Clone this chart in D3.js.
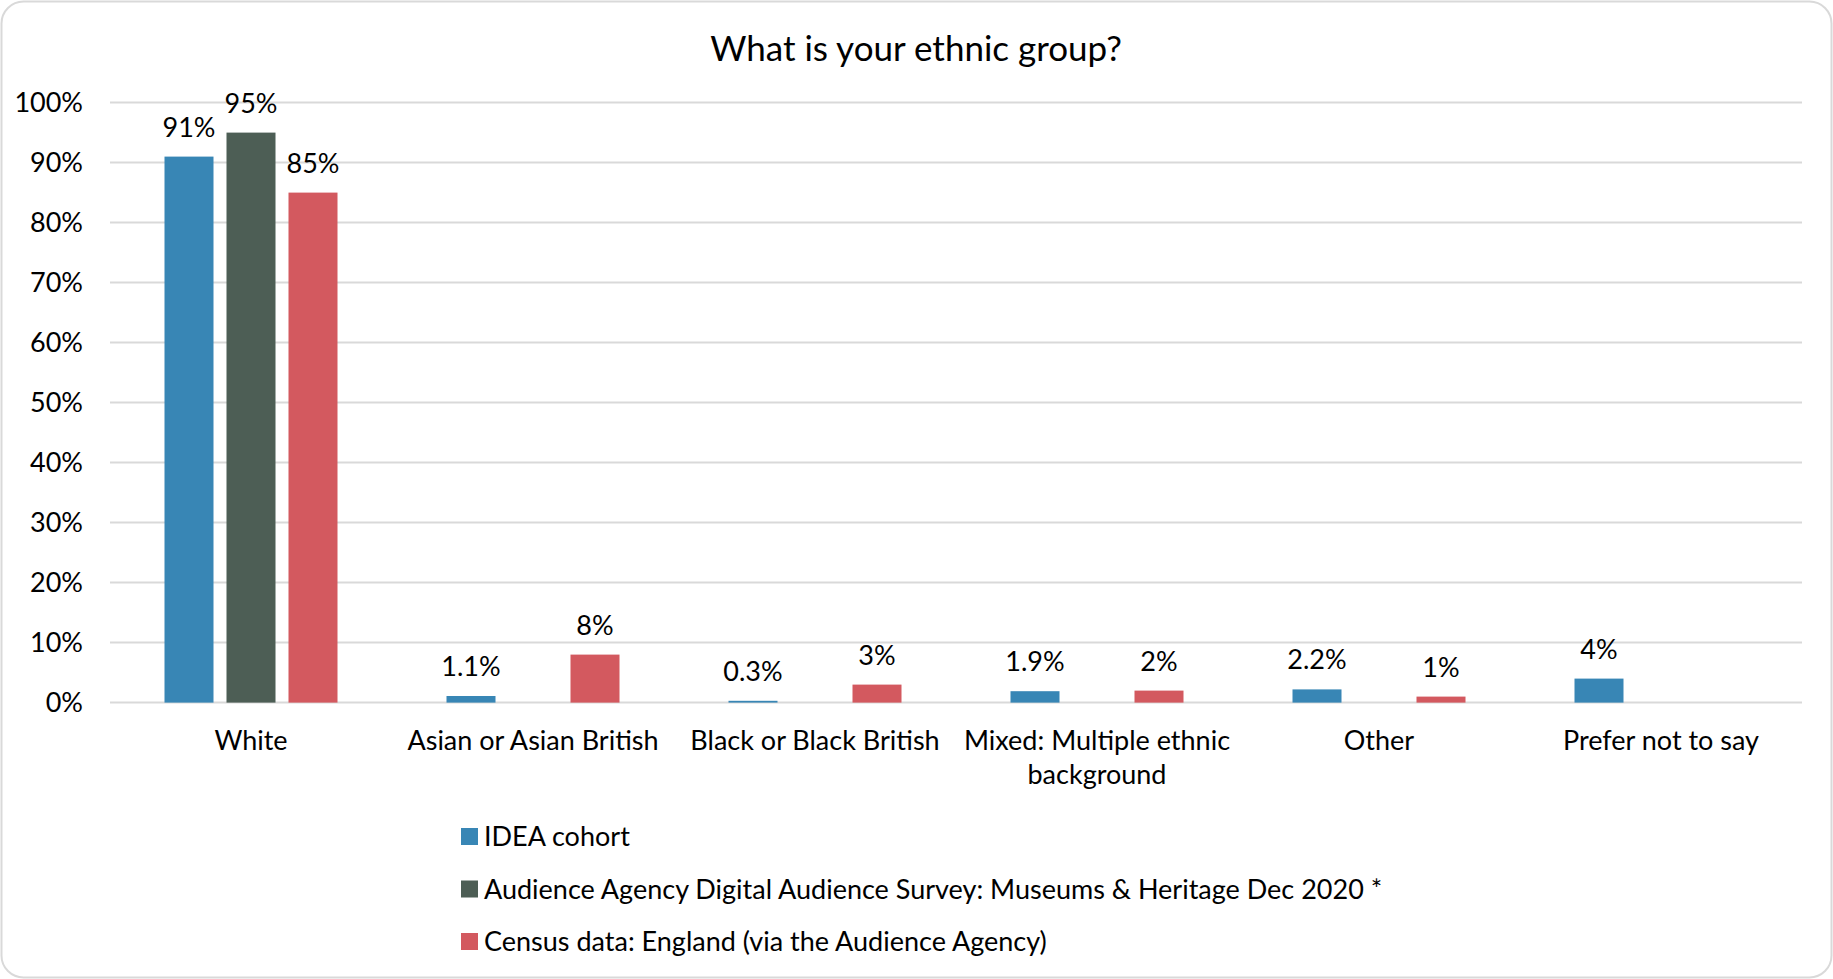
<!DOCTYPE html>
<html>
<head>
<meta charset="utf-8">
<script src="https://cdn.jsdelivr.net/npm/d3@7"></script>
<style>
  html, body { margin: 0; padding: 0; background: #fff; }
  svg { display: block; font-family: Lato, "Open Sans", sans-serif; }
</style>
</head>
<body>
<svg id="chart" width="1833" height="979"></svg>
<script>
// Ethnic group breakdown: IDEA cohort vs. benchmark surveys
const categories = [
  ["White"],
  ["Asian or Asian British"],
  ["Black or Black British"],
  ["Mixed: Multiple ethnic", "background"],
  ["Other"],
  ["Prefer not to say"]
];
const seriesNames = [
  "IDEA cohort",
  "Audience Agency Digital Audience Survey: Museums & Heritage Dec 2020 *",
  "Census data: England (via the Audience Agency)"
];
const ideaCohort = [91, 1.1, 0.3, 1.9, 2.2, 4];
const audienceAgency = [95, null, null, null, null, null];
const census = [85, 8, 3, 2, 1, null];
const yTicks = [0, 10, 20, 30, 40, 50, 60, 70, 80, 90, 100];
const colors = ["#3886b5", "#4d5e55", "#d3595f"];

const seriesValues = [ideaCohort, audienceAgency, census];

const W = 1833, H = 979;
const FS = 27;
const svg = d3.select("#chart");

// chart frame
svg.append("rect")
  .attr("x", 1.5).attr("y", 1.5)
  .attr("width", W - 3).attr("height", H - 3)
  .attr("rx", 22).attr("ry", 22)
  .attr("fill", "#fff")
  .attr("stroke", "#d9d9d9").attr("stroke-width", 2);

// title
svg.append("text")
  .attr("x", 916).attr("y", 61)
  .attr("text-anchor", "middle")
  .attr("font-size", 35)
  .attr("fill", "#000")
  .text("What is your ethnic group?");

const plot = { left: 110, right: 1802, top: 102.6, bottom: 702.6 };

const x = d3.scaleBand()
  .domain(d3.range(categories.length))
  .range([plot.left, plot.right])
  .paddingInner(0).paddingOuter(0);

const y = d3.scaleLinear().domain([0, 100]).range([plot.bottom, plot.top]);

const barW = 49, barStep = 62;
const xs = d3.scaleBand().domain(d3.range(seriesNames.length))
  .range([0, barStep * seriesNames.length]).paddingInner(0);

// gridlines
svg.append("g")
  .selectAll("line")
  .data(yTicks)
  .join("line")
  .attr("x1", plot.left).attr("x2", plot.right)
  .attr("y1", d => y(d)).attr("y2", d => y(d))
  .attr("stroke", "#d9d9d9").attr("stroke-width", 2);

// y axis labels
const yAxis = d3.axisLeft(y).tickValues(yTicks).tickFormat(d => d + "%").tickSize(0).tickPadding(0);
const yg = svg.append("g").attr("transform", `translate(${83},0)`).call(yAxis);
yg.select(".domain").remove();
yg.selectAll("text").attr("font-size", FS).attr("font-family", "Lato, sans-serif").attr("fill", "#000");

// bars
const groupW = barStep * seriesNames.length - (barStep - barW);
const groups = svg.append("g").selectAll("g")
  .data(categories.map((c, i) => i))
  .join("g")
  .attr("transform", i => `translate(${x(i) + x.bandwidth() / 2 - groupW / 2},0)`);

groups.each(function(ci) {
  const g = d3.select(this);
  const items = seriesValues.map((vals, si) => ({ si, v: vals[ci] })).filter(d => d.v != null);
  g.selectAll("rect")
    .data(items)
    .join("rect")
    .attr("x", d => xs(d.si))
    .attr("width", barW)
    .attr("y", d => y(d.v))
    .attr("height", d => y(0) - y(d.v))
    .attr("fill", d => colors[d.si]);
  g.selectAll("text")
    .data(items)
    .join("text")
    .attr("x", d => xs(d.si) + barW / 2)
    .attr("y", d => y(d.v) - 20)
    .attr("text-anchor", "middle")
    .attr("font-size", FS)
    .attr("fill", "#000")
    .text(d => d.v + "%");
});

// category labels
const xl = svg.append("g").selectAll("text")
  .data(categories)
  .join("text")
  .attr("x", (d, i) => x(i) + x.bandwidth() / 2)
  .attr("y", 750)
  .attr("text-anchor", "middle")
  .attr("font-size", FS)
  .attr("fill", "#000");
xl.selectAll("tspan")
  .data(d => d)
  .join("tspan")
  .attr("x", function() { return d3.select(this.parentNode).attr("x"); })
  .attr("dy", (d, i) => i === 0 ? 0 : 34)
  .text(d => d);

// legend
const lg = svg.append("g").selectAll("g")
  .data(seriesNames)
  .join("g")
  .attr("transform", (d, i) => `translate(461,${828 + i * 52.5})`);
lg.append("rect").attr("width", 17).attr("height", 17).attr("fill", (d, i) => colors[i]);
lg.append("text")
  .attr("x", 23).attr("y", 18)
  .attr("font-size", FS)
  .attr("fill", "#000")
  .text(d => d);
</script>
</body>
</html>
